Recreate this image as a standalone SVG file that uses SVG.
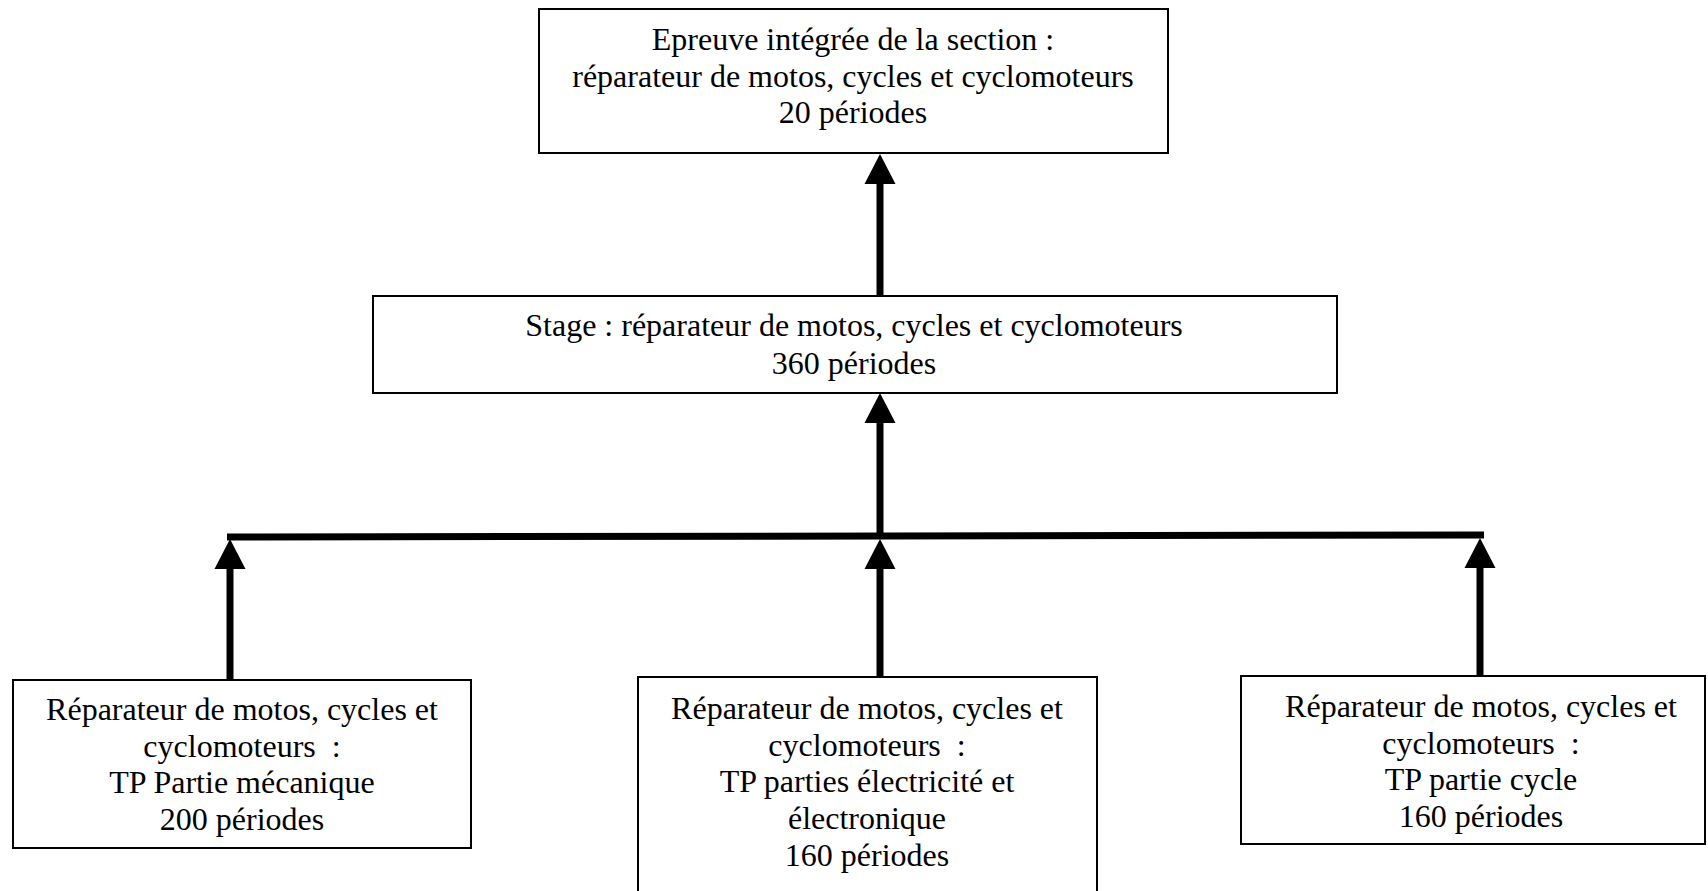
<svg xmlns="http://www.w3.org/2000/svg" width="1708" height="891" viewBox="0 0 1708 891">
<defs>
<style>
.box{fill:#fff;stroke:#000;stroke-width:2}
.t{font-family:"Liberation Serif","Times New Roman",serif;font-size:32px;fill:#000;text-anchor:middle}
.c{fill:none;stroke:#000;stroke-width:7}
</style>
<marker id="ah" markerUnits="userSpaceOnUse" markerWidth="32" markerHeight="34" viewBox="0 -17 32 34" refX="0" refY="0" orient="auto">
<path d="M0,-15.5 L30,0 L0,15.5 Z" fill="#000"/>
</marker>
</defs>
<rect width="1708" height="891" fill="#fff"/>
<g id="connectors">
<line class="c" x1="880" y1="296" x2="880" y2="184" marker-end="url(#ah)"/>
<line class="c" x1="880" y1="536" x2="880" y2="423" marker-end="url(#ah)"/>
<line class="c" x1="227" y1="537" x2="1484" y2="535"/>
<line class="c" x1="230" y1="680" x2="230" y2="569" marker-end="url(#ah)"/>
<line class="c" x1="880" y1="677" x2="880" y2="569" marker-end="url(#ah)"/>
<line class="c" x1="1480" y1="676" x2="1480" y2="568" marker-end="url(#ah)"/>
</g>
<g id="node-epreuve">
<rect class="box" x="539" y="9" width="629" height="144"/>
<text class="t" x="853" y="50">Epreuve intégrée de la section :</text>
<text class="t" x="853" y="87">réparateur de motos, cycles et cyclomoteurs</text>
<text class="t" x="853" y="123">20 périodes</text>
</g>
<g id="node-stage">
<rect class="box" x="373" y="296" width="964" height="97"/>
<text class="t" x="854" y="336">Stage : réparateur de motos, cycles et cyclomoteurs</text>
<text class="t" x="854" y="374">360 périodes</text>
</g>
<g id="node-mecanique">
<rect class="box" x="13" y="680" width="458" height="168"/>
<text class="t" x="242" y="720">Réparateur de motos, cycles et</text>
<text class="t" x="242" y="757">cyclomoteurs&#160; :</text>
<text class="t" x="242" y="793">TP Partie mécanique</text>
<text class="t" x="242" y="830">200 périodes</text>
</g>
<g id="node-electricite">
<rect class="box" x="638" y="677" width="459" height="230"/>
<text class="t" x="867" y="719">Réparateur de motos, cycles et</text>
<text class="t" x="867" y="756">cyclomoteurs&#160; :</text>
<text class="t" x="867" y="792">TP parties électricité et</text>
<text class="t" x="867" y="829">électronique</text>
<text class="t" x="867" y="866">160 périodes</text>
</g>
<g id="node-cycle">
<rect class="box" x="1241" y="676" width="464" height="168"/>
<text class="t" x="1481" y="717">Réparateur de motos, cycles et</text>
<text class="t" x="1481" y="754">cyclomoteurs&#160; :</text>
<text class="t" x="1481" y="790">TP partie cycle</text>
<text class="t" x="1481" y="827">160 périodes</text>
</g>
</svg>
